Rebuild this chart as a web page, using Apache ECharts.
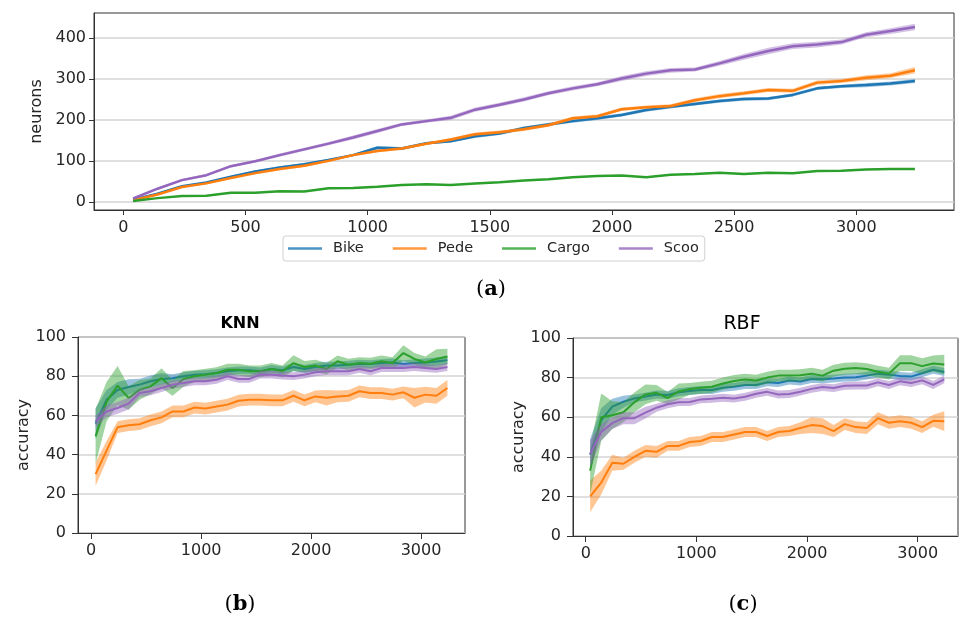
<!DOCTYPE html>
<html><head><meta charset="utf-8">
<script src="https://cdn.jsdelivr.net/npm/echarts@6/dist/echarts.min.js"></script>
<style>html,body{margin:0;padding:0;background:#fff}#c{width:959px;height:623px}</style>
</head><body><div id="c"></div>
<script>
const samples = [40,140,240,340,440,540,640,740,840,940,1040,1140,1240,1340,1440,1540,1640,1740,1840,1940,2040,2140,2240,2340,2440,2540,2640,2740,2840,2940,3040,3140,3240];
const seriesNames = ['Bike','Pede','Cargo','Scoo'];
const colors = ['#1f77b4','#ff7f0e','#2ca02c','#9467bd'];

// (a) neurons
const neuronsBike  = [5,20,38,47,61,74,84,92,102,114,132,130,143,148,160,167,180,189,197,204,212,224,232,239,246,251,252,261,277,282,285,289,295];
const neuronsPede  = [4,18,36,45,58,70,80,88,100,114,124,130,142,152,165,170,177,187,204,209,226,231,234,248,258,265,273,271,291,295,303,308,321];
const neuronsCargo = [2,9,14,15,22,22,26,25,33,34,37,41,43,41,45,48,52,55,60,63,64,60,66,68,71,68,71,70,75,76,79,80,80];
const neuronsScoo  = [8,32,53,65,87,99,114,128,142,157,173,189,197,205,225,237,250,265,277,287,301,313,321,323,338,354,368,380,384,390,408,417,427];
const neuronsBikeSd  = [1,2,2,2,2,3,3,3,3,3,4,4,3,3,4,4,4,4,4,4,4,4,4,4,4,4,4,4,4,4,5,5,5];
const neuronsPedeSd  = [1,2,2,2,2,3,3,3,3,3,3,3,3,4,4,4,4,4,4,4,4,4,4,5,5,5,5,5,5,5,6,6,8];
const neuronsCargoSd = [1,1,1,1,1,1,1,1,1,1,1,1,1,1,1,1,1,1,1,1,1,1,1,1,2,1,1,1,1,1,1,1,1];
const neuronsScooSd  = [2,3,3,3,3,3,4,4,4,5,5,4,4,5,5,5,5,5,5,5,6,6,6,5,6,7,8,7,7,6,6,7,8];

// (b) KNN accuracy
const knnBike  = [55.8,68,73,74.5,75.7,77.4,78.6,79,80,80.8,81,81.6,82.5,83,83,82.5,83.7,83,84.7,83.7,84.7,85.4,85.4,85.9,86.4,86.2,86.7,87,86.2,86.7,87,87.5,88.2];
const knnPede  = [30,42,54,55,55.5,57.5,59,62,62,64,63.5,64.5,65.5,67.5,68,68,67.7,67.7,70,67.7,69.7,69,69.7,70,72.3,71.4,71.4,70.6,71.8,69,70.6,70,74];
const knnCargo = [49.3,67,75.2,68.9,73,74.8,79,74,78.6,80,80.8,81.6,83.3,83.3,82.5,82.5,83.7,82.5,86.7,84.7,85.4,83.7,87.6,85.9,86.7,86.4,87.6,86.7,91.8,88.8,87,88.8,90];
const knnScoo  = [57,62,63.8,66,71.4,72.3,74,75.7,76.5,77.4,77.4,78.2,80,78.6,78.6,80.8,80.8,80.3,80,80.8,82,82.5,82.5,82.5,83.7,82.5,84.2,84.2,84.2,84.7,84.2,83.7,84.7];
const knnBikeSd  = [8,5,4,4,3,3,3,2,2,2,2,2,2,2,2,2,2,2,2,2,2,2,2,2,2,2,2,2,2,2,2,2,2];
const knnPedeSd  = [6,5,3,3,3,3,3,3,3,3,3,3,3,3,3,3,3,3,3,3,3,4,3,3,3,3,3,3,3,5,4,4,4];
const knnCargoSd = [14,10,10,6,5,4,5,4,4,3,3,3,3,3,3,3,3,3,4,3,3,3,3,3,3,3,3,3,4,3,3,5,4];
const knnScooSd  = [3,3,3,3,2,2,2,2,2,2,2,2,2,2,2,2,2,2,2,2,2,2,2,2,2,2,2,2,2,2,2,2,2];

// (c) RBF accuracy
const rbfBike  = [41,58.5,65.3,67.8,69.5,70.4,71.5,71.2,72.6,73.2,73.7,73.7,74.9,75.4,76.3,76.3,77.6,77.3,78.5,78,79.3,79.2,79.5,80,80.2,81,82,81.5,80.8,80.5,82.2,84,82.8];
const rbfPede  = [20,27,37,36.5,40,43,42.5,45.5,45.5,47.5,48,50,50,51.3,52.5,52.5,50.5,52.5,53,54.5,56,55.5,53,56.5,55,54.5,59.5,57.2,58,57.2,55,58.2,58];
const rbfCargo = [33,60,61,62.5,67.5,71.5,72.3,69.7,73,74.3,74.9,75.4,77,78.3,79,78.5,80,81,81,81.2,82,81,83.5,84.5,84.8,84.3,83,82,87.3,87.3,85.8,87.1,86.6];
const rbfScoo  = [41.5,52.5,57,59.5,59.5,62.3,64.8,66.5,67.6,67.7,69,69.3,69.8,69.4,70.3,71.8,72.8,71.5,71.7,72.9,74.3,75.2,74.7,75.9,76,76,77.6,76.3,78.1,77.3,78.6,76.3,79.1];
const rbfBikeSd  = [8,6,4,3,2,2,2,2,2,2,2,2,2,2,2,2,2,2,2,2,2,2,2,2,2,2,2,2,2,2,2,2,2];
const rbfPedeSd  = [8,6,4,3,3,3,3,2.5,2.5,2.5,2.5,2.5,2.5,2.5,2.5,2.5,2.5,2.5,2.5,3,4,4,3,3,3,3,3,3,3,3,3,3,5];
const rbfCargoSd = [12,12,7,5,5,5,4,3,4,3,3,3,3,3,3,3,3,3,3,3,3,3,3,3,3,3,3,3,4,4,4,4,5];
const rbfScooSd  = [7,4,3,3,3,3,2,2,2,2,2,2,2,2,2,2,2,2,2,2,2,2,2,2,2,2,2,2,2,2,2,2,2];

const xTicksTop = [0,500,1000,1500,2000,2500,3000];
const yTicksTop = [0,100,200,300,400];
const xTicksBottom = [0,1000,2000,3000];

const txt = '#262626';
const FONT = 'DejaVu Sans';
const series = [];

function addPanel(gi, means, sds, lw, alpha) {
  means.forEach(function (m, k) {
    const s = sds[k];
    series.push({
      type: 'line', name: seriesNames[k], xAxisIndex: gi, yAxisIndex: gi,
      data: samples.map(function (x, i) { return [x, m[i]]; }),
      symbol: 'none', showSymbol: false, silent: true, z: 2 + k * 2,
      lineStyle: { color: colors[k], width: lw }, itemStyle: { color: colors[k] }
    });
    series.push({
      type: 'custom', xAxisIndex: gi, yAxisIndex: gi, silent: true, z: 3 + k * 2,
      data: samples.map(function (x, i) { return [x, m[i] - s[i], m[i] + s[i]]; }),
      encode: { x: 0, y: [1, 2] },
      renderItem: function (params, api) {
        if (params.dataIndex !== 0) return null;
        const up = [], dn = [];
        for (let i = 0; i < samples.length; i++) {
          up.push(api.coord([samples[i], m[i] + s[i]]));
          dn.push(api.coord([samples[i], m[i] - s[i]]));
        }
        return { type: 'polygon', shape: { points: up.concat(dn.reverse()) },
                 style: { fill: colors[k], opacity: alpha } };
      }
    });
  });
}
addPanel(0, [neuronsBike, neuronsPede, neuronsCargo, neuronsScoo], [neuronsBikeSd, neuronsPedeSd, neuronsCargoSd, neuronsScooSd], 2.5, 0.4);
addPanel(1, [knnBike, knnPede, knnCargo, knnScoo], [knnBikeSd, knnPedeSd, knnCargoSd, knnScooSd], 2, 0.45);
addPanel(2, [rbfBike, rbfPede, rbfCargo, rbfScoo], [rbfBikeSd, rbfPedeSd, rbfCargoSd, rbfScooSd], 2, 0.45);

function plain(v) { return String(v); }
function xAxis(gi, min, max, ticks, tickLen, margin) {
  return { gridIndex: gi, type: 'value', min: min, max: max,
    axisLine: { show: true, onZero: false, lineStyle: { color: '#333', width: 1 } },
    axisTick: { show: true, length: tickLen, customValues: ticks, lineStyle: { color: '#333' } },
    axisLabel: { customValues: ticks, formatter: plain, fontSize: 16, color: txt, fontFamily: FONT, margin: margin },
    splitLine: { show: false } };
}
function yAxis(gi, min, max, ticks, interval, name, gap, tickLen, margin) {
  const a = { gridIndex: gi, type: 'value', min: min, max: max,
    name: name, nameLocation: 'middle', nameGap: gap, nameRotate: 90,
    nameTextStyle: { fontSize: 16, color: txt, fontFamily: FONT },
    axisLine: { show: true, onZero: false, lineStyle: { color: '#333', width: 1 } },
    axisTick: { show: true, length: tickLen, lineStyle: { color: '#333' } },
    axisLabel: { formatter: plain, fontSize: 16, color: txt, fontFamily: FONT, margin: margin },
    splitLine: { show: true, lineStyle: { color: '#d4d4d4', width: 1.5 } } };
  if (ticks) { a.axisTick.customValues = ticks; a.axisLabel.customValues = ticks; }
  if (interval) { a.interval = interval; }
  return a;
}

const capRich = {
  p: { fontFamily: 'DejaVu Serif', fontSize: 21, color: '#000' },
  b: { fontFamily: 'DejaVu Serif', fontSize: 21, fontWeight: 'bold', color: '#000' }
};
function caption(letter, x, y) {
  return { type: 'text', x: x, y: y, style: { text: '{p|(}{b|' + letter + '}{p|)}', rich: capRich, align: 'center', verticalAlign: 'middle' } };
}

const chart = echarts.init(document.getElementById('c'), null, { renderer: 'canvas' });
chart.setOption({
  animation: false,
  backgroundColor: '#fff',
  grid: [
    { left: 94, top: 13, width: 860, height: 197, show: true, borderColor: '#333', borderWidth: 1 },
    { left: 78, top: 337, width: 387, height: 196, show: true, borderColor: '#333', borderWidth: 1 },
    { left: 573, top: 338, width: 385, height: 198, show: true, borderColor: '#333', borderWidth: 1 }
  ],
  xAxis: [
    xAxis(0, -120, 3400, xTicksTop, 5, 10),
    xAxis(1, -120, 3400, xTicksBottom, 6, 10),
    xAxis(2, -115, 3364, xTicksBottom, 6, 10)
  ],
  yAxis: [
    yAxis(0, -20, 461, yTicksTop, null, 'neurons', 48, 5, 8),
    yAxis(1, 0, 100, null, 20, 'accuracy', 44, 6, 12),
    yAxis(2, 0, 100, null, 20, 'accuracy', 44, 6, 12)
  ],
  legend: {
    data: seriesNames.map(function (n) { return { name: n, icon: 'rect' }; }),
    left: 283, top: 236, orient: 'horizontal',
    padding: [5, 6, 5, 5], itemGap: 29, itemWidth: 34, itemHeight: 2.5,
    backgroundColor: 'rgba(255,255,255,0.8)', borderColor: '#d0d0d0', borderWidth: 1, borderRadius: 3,
    selectedMode: false,
    itemStyle: { opacity: 0.8 },
    textStyle: { fontSize: 14.5, color: txt, fontFamily: FONT, padding: [0, 0, 0, 6], lineHeight: 15 }
  },
  graphic: [
    { type: 'text', x: 240, y: 324, style: { text: 'KNN', fontFamily: FONT, fontSize: 16, fontWeight: 'bold', fill: '#000', align: 'center', verticalAlign: 'middle' } },
    { type: 'text', x: 742, y: 324, style: { text: 'RBF', fontFamily: FONT, fontSize: 19, fill: '#000', align: 'center', verticalAlign: 'middle' } },
    caption('a', 491, 290),
    caption('b', 240, 605),
    caption('c', 743, 605)
  ],
  series: series
});
</script>
</body></html>
